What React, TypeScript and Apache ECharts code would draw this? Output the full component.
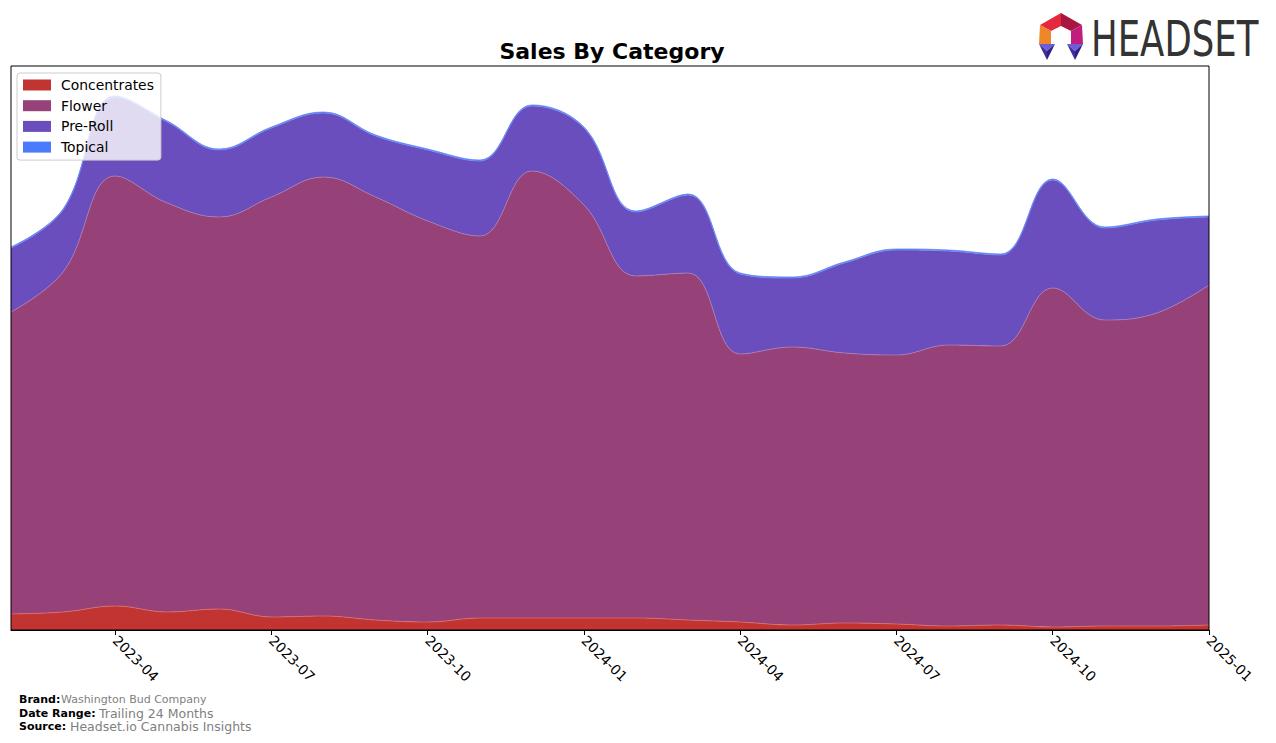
import React, { useEffect, useRef } from "react";
import * as echarts from "echarts";

const months = [
  "2023-02", "2023-03", "2023-04", "2023-05", "2023-06", "2023-07", "2023-08", "2023-09",
  "2023-10", "2023-11", "2023-12", "2024-01", "2024-02", "2024-03", "2024-04", "2024-05",
  "2024-06", "2024-07", "2024-08", "2024-09", "2024-10", "2024-11", "2024-12", "2025-01",
];

const concentrates = [16, 18, 24, 18, 21, 13, 14, 10, 8, 12, 12, 12, 12, 10, 8, 5, 7, 6, 4, 5, 3, 4, 4, 5];
const flower = [302, 340, 430, 409, 392, 420, 439, 423, 401, 382, 447, 413, 342, 347, 268, 278, 270, 269, 281, 279, 339, 306, 313, 340];
const preRoll = [64, 62, 79, 81, 67, 69, 64, 61, 71, 75, 65, 77, 64, 78, 80, 69, 90, 105, 94, 91, 108, 92, 93, 68];
const topical = [1, 1, 1, 1, 1, 1, 1, 1, 1, 1, 1, 1, 1, 1, 1, 1, 1, 1, 1, 1, 1, 1, 1, 1];

const tickMonths = ["01", "04", "07", "10"];

const seriesDefs = [
  { name: "Concentrates", data: concentrates, color: "#C23432", edge: "#D97070" },
  { name: "Flower", data: flower, color: "#964178", edge: "#B07BB0" },
  { name: "Pre-Roll", data: preRoll, color: "#6A4EBD", edge: "#7F8BEA" },
  { name: "Topical", data: topical, color: "#4A7BFF", edge: "#5A86FF" },
];

const FONT = "DejaVu Sans";

export default function App() {
  const ref = useRef<HTMLDivElement>(null);
  useEffect(() => {
    if (!ref.current) return;
    const chart = echarts.init(ref.current, null, { renderer: "svg" });
    const showTick = (_i: number, v: string) => tickMonths.includes(v.slice(5));
    chart.setOption({
      animation: false,
      backgroundColor: "#fff",
      title: {
        text: "Sales By Category",
        left: 607,
        textAlign: "center",
        top: 35,
        textStyle: { fontFamily: FONT, fontSize: 22, fontWeight: "bold", color: "#000" },
      },
      legend: {
        orient: "vertical",
        left: 17,
        top: 73,
        icon: "rect",
        itemWidth: 28,
        itemHeight: 11,
        itemGap: 4.7,
        padding: [4, 7, 5, 6],
        backgroundColor: "rgba(255,255,255,0.8)",
        borderColor: "#cccccc",
        borderWidth: 1,
        borderRadius: 3,
        data: seriesDefs.map((s) => s.name),
        textStyle: { fontFamily: FONT, fontSize: 13.9, color: "#000", lineHeight: 16, padding: [0, 0, 0, 5] },
      },
      grid: {
        left: 11,
        right: 67,
        top: 66,
        bottom: 113,
        show: true,
        borderColor: "#000",
        borderWidth: 1,
        backgroundColor: "transparent",
        z: 10,
      },
      xAxis: {
        type: "category",
        boundaryGap: false,
        data: months,
        axisLine: { show: true, lineStyle: { color: "#000", width: 1 } },
        axisTick: { show: true, interval: showTick, length: 5, lineStyle: { color: "#000" } },
        axisLabel: {
          interval: showTick,
          rotate: -45,
          margin: 8,
          color: "#000",
          fontFamily: FONT,
          fontSize: 13.9,
        },
        splitLine: { show: false },
      },
      yAxis: {
        type: "value",
        min: 0,
        max: 564,
        show: false,
        splitLine: { show: false },
      },
      series: seriesDefs.map((s) => ({
        name: s.name,
        type: "line",
        stack: "total",
        smooth: 0.4,
        symbol: "none",
        data: s.data,
        itemStyle: { color: s.color },
        lineStyle: { color: s.edge, width: 0.8 },
        areaStyle: { color: s.color, opacity: 1 },
      })),
      graphic: [
        // Logo icon
        { type: "polygon", shape: { points: [[1040, 25], [1061, 13], [1061, 26], [1051, 31]] }, style: { fill: "#E5273F" } },
        { type: "polygon", shape: { points: [[1061, 13], [1082, 25], [1071, 31], [1061, 26]] }, style: { fill: "#A8173F" } },
        { type: "polygon", shape: { points: [[1082, 25], [1083, 44], [1071, 44], [1071, 31]] }, style: { fill: "#C21C7E" } },
        { type: "polygon", shape: { points: [[1040, 25], [1051, 31], [1051, 44], [1039, 44]] }, style: { fill: "#F0862A" } },
        { type: "polygon", shape: { points: [[1039, 44], [1055, 44], [1047, 51]] }, style: { fill: "#6E5CD8" } },
        { type: "polygon", shape: { points: [[1039, 44], [1047, 51], [1047, 60]] }, style: { fill: "#3F2F9E" } },
        { type: "polygon", shape: { points: [[1055, 44], [1047, 51], [1047, 60]] }, style: { fill: "#2B2180" } },
        { type: "polygon", shape: { points: [[1067, 44], [1083, 44], [1075, 51]] }, style: { fill: "#6E5CD8" } },
        { type: "polygon", shape: { points: [[1067, 44], [1075, 51], [1075, 60]] }, style: { fill: "#3F2F9E" } },
        { type: "polygon", shape: { points: [[1083, 44], [1075, 51], [1075, 60]] }, style: { fill: "#2B2180" } },
        {
          type: "text",
          x: 1091,
          y: 39,
          scaleX: 0.71,
          style: { text: "HEADSET", fontFamily: FONT, fontSize: 50, fill: "#333333", verticalAlign: "middle" },
        },
        // Footer
        { type: "text", x: 19, y: 699, style: { text: "Brand:", fontFamily: FONT, fontSize: 11, fontWeight: "bold", fill: "#000", verticalAlign: "middle" } },
        { type: "text", x: 61, y: 699, style: { text: "Washington Bud Company", fontFamily: FONT, fontSize: 11, fill: "#808080", verticalAlign: "middle" } },
        { type: "text", x: 19, y: 713, style: { text: "Date Range:", fontFamily: FONT, fontSize: 11, fontWeight: "bold", fill: "#000", verticalAlign: "middle" } },
        { type: "text", x: 99, y: 713, style: { text: "Trailing 24 Months", fontFamily: FONT, fontSize: 12.5, fill: "#808080", verticalAlign: "middle" } },
        { type: "text", x: 19, y: 726, style: { text: "Source:", fontFamily: FONT, fontSize: 11, fontWeight: "bold", fill: "#000", verticalAlign: "middle" } },
        { type: "text", x: 70, y: 726, style: { text: "Headset.io Cannabis Insights", fontFamily: FONT, fontSize: 12.5, fill: "#808080", verticalAlign: "middle" } },
      ],
    });
    return () => chart.dispose();
  }, []);
  return (
    <div
      ref={ref}
      style={{ position: "fixed", left: 0, top: 0, width: 1276, height: 743, background: "#fff" }}
    />
  );
}
